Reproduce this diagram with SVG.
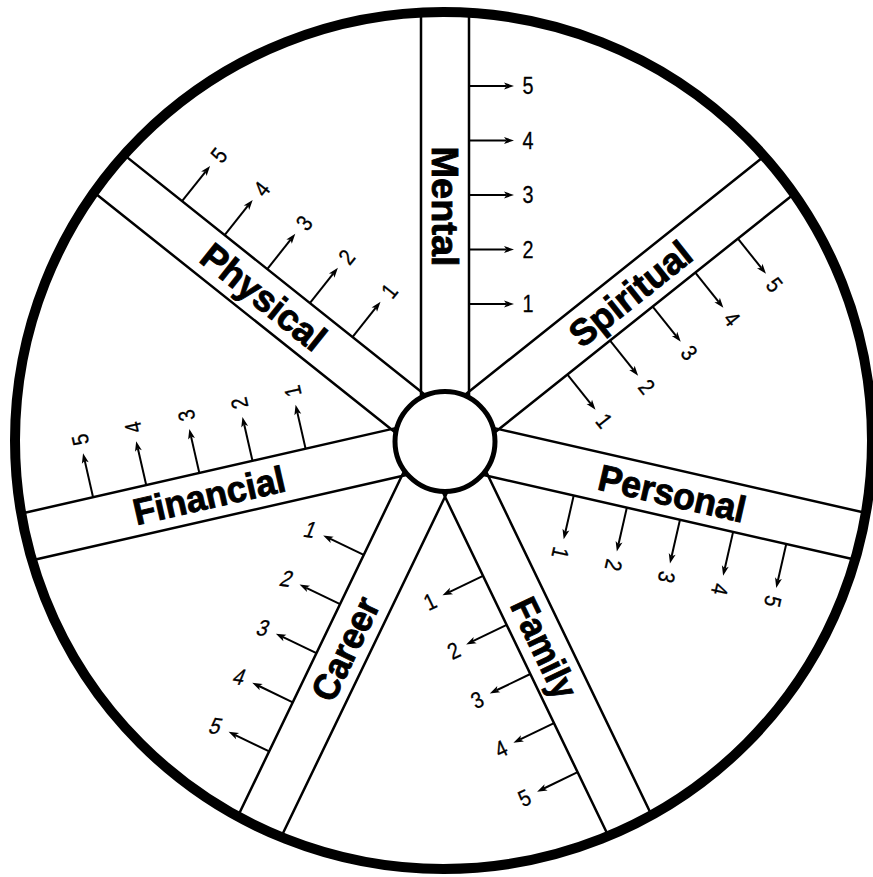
<svg xmlns="http://www.w3.org/2000/svg" width="873" height="877" viewBox="0 0 873 877">
<style>
.band{stroke:#000;stroke-width:2.5;fill:none}
.arr{stroke:#000;stroke-width:2;fill:none;marker-end:url(#ah)}
.title{font-family:"Liberation Sans",Arial,sans-serif;font-weight:bold;font-size:37px;fill:#000;stroke:#000;stroke-width:0.9;text-anchor:middle}
.num{font-family:"Liberation Sans",Arial,sans-serif;font-size:23px;fill:#000;stroke:#000;stroke-width:0.3;text-anchor:middle}
</style>
<defs>
<marker id="ah" markerUnits="userSpaceOnUse" markerWidth="11" markerHeight="8" refX="2.5" refY="3.5" orient="auto" style="overflow:visible">
<path d="M0,0 L10,3.5 L0,7 L2.5,3.5 Z" fill="#000"/>
</marker>
</defs>
<rect width="873" height="877" fill="#fff"/>

<g id="mental" transform="translate(445,441.5) rotate(-90)">
<path class="band" d="M44,-24H430M44,24H430"/>
<text class="title" transform="translate(235,0) rotate(180)" y="13" textLength="120" lengthAdjust="spacingAndGlyphs">Mental</text>
<g class="ticks">
<path class="arr" d="M137.5,24V61.5"/><path class="arr" d="M192,24V61.5"/><path class="arr" d="M246.5,24V61.5"/><path class="arr" d="M301,24V61.5"/><path class="arr" d="M355.5,24V61.5"/>
</g>
<text class="num" transform="translate(137.5,83) rotate(90) scale(0.86,1)" y="8.2">1</text>
<text class="num" transform="translate(192,83) rotate(90) scale(0.86,1)" y="8.2">2</text>
<text class="num" transform="translate(246.5,83) rotate(90) scale(0.86,1)" y="8.2">3</text>
<text class="num" transform="translate(301,83) rotate(90) scale(0.86,1)" y="8.2">4</text>
<text class="num" transform="translate(355.5,83) rotate(90) scale(0.86,1)" y="8.2">5</text>
</g>

<g id="spiritual" transform="translate(445,441.5) rotate(-38.571)">
<path class="band" d="M44,-24H430M44,24H430"/>
<text class="title" transform="translate(237,0)" y="13" textLength="145" lengthAdjust="spacingAndGlyphs">Spiritual</text>
<g class="ticks">
<path class="arr" d="M137.5,24V61.5"/><path class="arr" d="M192,24V61.5"/><path class="arr" d="M246.5,24V61.5"/><path class="arr" d="M301,24V61.5"/><path class="arr" d="M355.5,24V61.5"/>
</g>
<text class="num" transform="translate(137.5,83) rotate(90) scale(0.86,1)" y="8.2">1</text>
<text class="num" transform="translate(192,83) rotate(90) scale(0.86,1)" y="8.2">2</text>
<text class="num" transform="translate(246.5,83) rotate(90) scale(0.86,1)" y="8.2">3</text>
<text class="num" transform="translate(301,83) rotate(90) scale(0.86,1)" y="8.2">4</text>
<text class="num" transform="translate(355.5,83) rotate(90) scale(0.86,1)" y="8.2">5</text>
</g>

<g id="personal" transform="translate(445,441.5) rotate(12.857)">
<path class="band" d="M44,-24H430M44,24H430"/>
<text class="title" transform="translate(233,0)" y="13" textLength="150" lengthAdjust="spacingAndGlyphs">Personal</text>
<g class="ticks">
<path class="arr" d="M137.5,24V61.5"/><path class="arr" d="M192,24V61.5"/><path class="arr" d="M246.5,24V61.5"/><path class="arr" d="M301,24V61.5"/><path class="arr" d="M355.5,24V61.5"/>
</g>
<text class="num" transform="translate(137.5,83) rotate(90) scale(0.86,1)" y="8.2">1</text>
<text class="num" transform="translate(192,83) rotate(90) scale(0.86,1)" y="8.2">2</text>
<text class="num" transform="translate(246.5,83) rotate(90) scale(0.86,1)" y="8.2">3</text>
<text class="num" transform="translate(301,83) rotate(90) scale(0.86,1)" y="8.2">4</text>
<text class="num" transform="translate(355.5,83) rotate(90) scale(0.86,1)" y="8.2">5</text>
</g>

<g id="family" transform="translate(445,441.5) rotate(64.286)">
<path class="band" d="M44,-24H430M44,24H430"/>
<text class="title" transform="translate(229,0)" y="13" textLength="107" lengthAdjust="spacingAndGlyphs">Family</text>
<g class="ticks">
<path class="arr" d="M137.5,24V61.5"/><path class="arr" d="M192,24V61.5"/><path class="arr" d="M246.5,24V61.5"/><path class="arr" d="M301,24V61.5"/><path class="arr" d="M355.5,24V61.5"/>
</g>
<text class="num" transform="translate(137.5,83) rotate(-90) scale(0.86,1)" y="8.2">1</text>
<text class="num" transform="translate(192,83) rotate(-90) scale(0.86,1)" y="8.2">2</text>
<text class="num" transform="translate(246.5,83) rotate(-90) scale(0.86,1)" y="8.2">3</text>
<text class="num" transform="translate(301,83) rotate(-90) scale(0.86,1)" y="8.2">4</text>
<text class="num" transform="translate(355.5,83) rotate(-90) scale(0.86,1)" y="8.2">5</text>
</g>

<g id="career" transform="translate(445,441.5) rotate(115.714)">
<path class="band" d="M44,-24H430M44,24H430"/>
<text class="title" transform="translate(230,0) rotate(180)" y="13" textLength="110" lengthAdjust="spacingAndGlyphs">Career</text>
<g class="ticks">
<path class="arr" d="M137.5,24V61.5"/><path class="arr" d="M192,24V61.5"/><path class="arr" d="M246.5,24V61.5"/><path class="arr" d="M301,24V61.5"/><path class="arr" d="M355.5,24V61.5"/>
</g>
<text class="num" transform="translate(137.5,83) rotate(-107.714) skewX(-14) scale(0.86,1)" y="8.2">1</text>
<text class="num" transform="translate(192,83) rotate(-107.714) skewX(-14) scale(0.86,1)" y="8.2">2</text>
<text class="num" transform="translate(246.5,83) rotate(-107.714) skewX(-14) scale(0.86,1)" y="8.2">3</text>
<text class="num" transform="translate(301,83) rotate(-107.714) skewX(-14) scale(0.86,1)" y="8.2">4</text>
<text class="num" transform="translate(355.5,83) rotate(-107.714) skewX(-14) scale(0.86,1)" y="8.2">5</text>
</g>

<g id="financial" transform="translate(445,441.5) rotate(167.143)">
<path class="band" d="M44,-24H430M44,24H430"/>
<text class="title" transform="translate(242,0) rotate(180)" y="13" textLength="155" lengthAdjust="spacingAndGlyphs">Financial</text>
<g class="ticks">
<path class="arr" d="M137.5,24V61.5"/><path class="arr" d="M192,24V61.5"/><path class="arr" d="M246.5,24V61.5"/><path class="arr" d="M301,24V61.5"/><path class="arr" d="M355.5,24V61.5"/>
</g>
<text class="num" transform="translate(137.5,83) rotate(90) scale(0.86,1)" y="8.2">1</text>
<text class="num" transform="translate(192,83) rotate(90) scale(0.86,1)" y="8.2">2</text>
<text class="num" transform="translate(246.5,83) rotate(90) scale(0.86,1)" y="8.2">3</text>
<text class="num" transform="translate(301,83) rotate(90) scale(0.86,1)" y="8.2">4</text>
<text class="num" transform="translate(355.5,83) rotate(90) scale(0.86,1)" y="8.2">5</text>
</g>

<g id="physical" transform="translate(445,441.5) rotate(218.571)">
<path class="band" d="M44,-24H430M44,24H430"/>
<text class="title" transform="translate(232,0) rotate(180)" y="13" textLength="148" lengthAdjust="spacingAndGlyphs">Physical</text>
<g class="ticks">
<path class="arr" d="M137.5,24V61.5"/><path class="arr" d="M192,24V61.5"/><path class="arr" d="M246.5,24V61.5"/><path class="arr" d="M301,24V61.5"/><path class="arr" d="M355.5,24V61.5"/>
</g>
<text class="num" transform="translate(137.5,83) rotate(90) scale(0.86,1)" y="8.2">1</text>
<text class="num" transform="translate(192,83) rotate(90) scale(0.86,1)" y="8.2">2</text>
<text class="num" transform="translate(246.5,83) rotate(90) scale(0.86,1)" y="8.2">3</text>
<text class="num" transform="translate(301,83) rotate(90) scale(0.86,1)" y="8.2">4</text>
<text class="num" transform="translate(355.5,83) rotate(90) scale(0.86,1)" y="8.2">5</text>
</g>

<g id="hub"><circle cx="445" cy="441.5" r="50" fill="#fff" stroke="#000" stroke-width="5"/></g>
<g id="rim"><circle cx="443.5" cy="440.5" r="428.5" fill="none" stroke="#000" stroke-width="10"/></g>
</svg>
